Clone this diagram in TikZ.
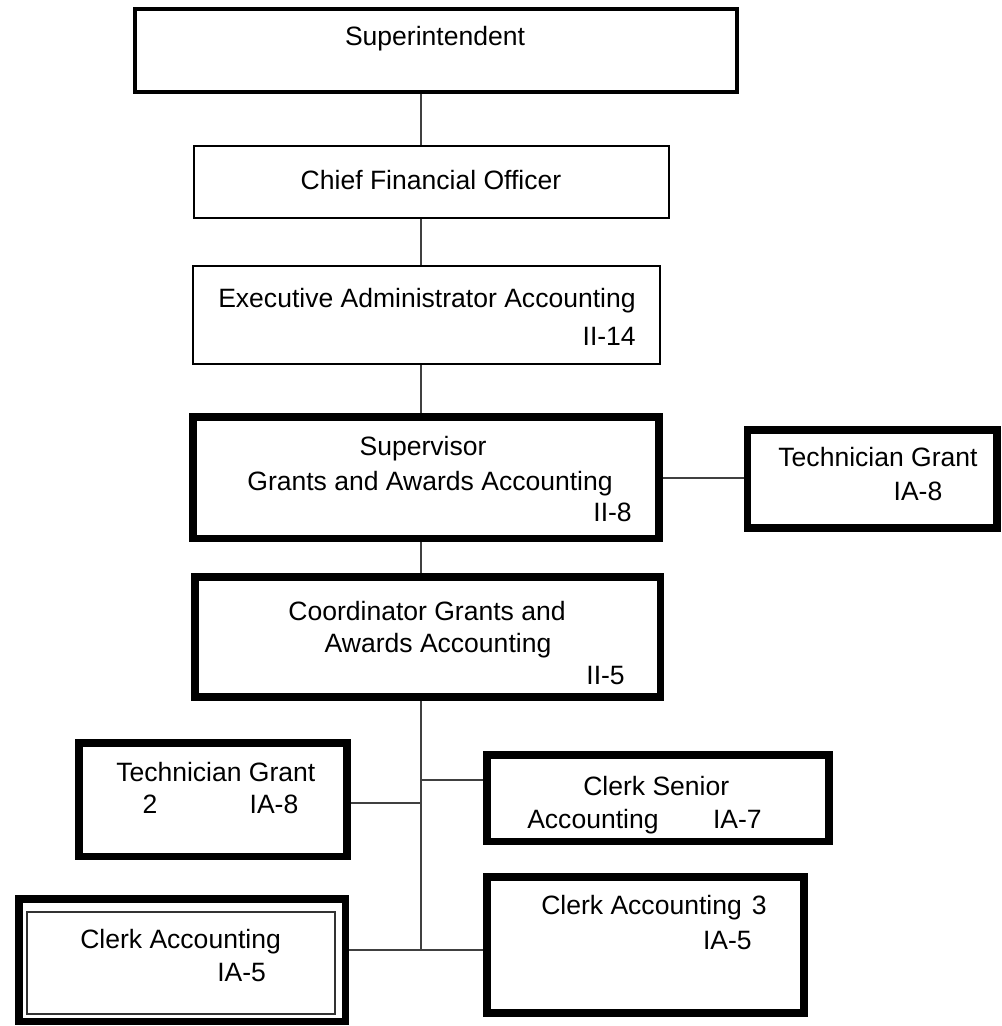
\documentclass[tikz,border=0pt]{standalone}
\usepackage{fontspec}
\setmainfont{Liberation Sans}
\usetikzlibrary{fit}
\begin{document}
\begin{tikzpicture}[x=0.75pt,y=-0.75pt,
  every node/.style={inner sep=0pt, font=\fontsize{19.9pt}{24pt}\selectfont},
  heavybox/.style={draw=black, line width=5.6pt, inner sep=0pt},
  mediumbox/.style={draw=black, line width=2.6pt, inner sep=0pt},
  plainbox/.style={draw=black, line width=1.5pt, inner sep=0pt},
  innerbox/.style={draw=black!80, line width=0.8pt, inner sep=0pt},
  link/.style={draw=black!75, line width=1pt}]
\useasboundingbox (0,0) rectangle (1001,1026);

% boxes
\node[mediumbox, fit={(135,9)(737,92)}] (sup) {};
\node[plainbox, fit={(193.5,146)(669,218)}] (cfo) {};
\node[plainbox, fit={(192.5,266)(659.5,364)}] (exa) {};
\node[heavybox, fit={(193,417)(659,538.5)}] (sgaa) {};
\node[heavybox, fit={(747.5,430)(997,528)}] (tg) {};
\node[heavybox, fit={(195,577)(660.5,697)}] (cgaa) {};
\node[heavybox, fit={(79,743)(347,856.5)}] (tgtwo) {};
\node[heavybox, fit={(487,755)(829,841.5)}] (csa) {};
\node[heavybox, fit={(19,899)(345.5,1021.5)}] (ca) {};
\node[innerbox, fit={(27,912)(335,1014)}] (cain) {};
\node[heavybox, fit={(487,877)(804,1013)}] (cathree) {};

% texts
\node[anchor=base] (sup-t) at (435,45) {Superintendent};
\node[anchor=base] (cfo-t) at (431,189) {Chief Financial Officer};
\node[anchor=base west] (exa-t) at (218,307) {Executive Administrator Accounting};
\node[anchor=base east] (exa-g) at (636,345) {II-14};
\node[anchor=base] (sgaa-t1) at (423,455) {Supervisor};
\node[anchor=base] (sgaa-t2) at (430,490) {Grants and Awards Accounting};
\node[anchor=base east] (sgaa-g) at (632,521) {II-8};
\node[anchor=base] (tg-t) at (878,466) {Technician Grant};
\node[anchor=base] (tg-g) at (918,500) {IA-8};
\node[anchor=base] (cgaa-t1) at (427,620) {Coordinator Grants and};
\node[anchor=base] (cgaa-t2) at (438,652) {Awards Accounting};
\node[anchor=base east] (cgaa-g) at (625,684) {II-5};
\node[anchor=base west] (tgtwo-t) at (116,781) {Technician Grant};
\node[anchor=base] (tgtwo-n) at (150,813) {2};
\node[anchor=base] (tgtwo-g) at (274,813) {IA-8};
\node[anchor=base west] (csa-t1) at (583,795) {Clerk Senior};
\node[anchor=base west] (csa-t2) at (527,828) {Accounting};
\node[anchor=base east] (csa-g) at (762,828) {IA-7};
\node[anchor=base west] (ca-t) at (80,948) {Clerk Accounting};
\node[anchor=base west] (ca-g) at (217,981) {IA-5};
\node[anchor=base west] (cathree-t) at (541,914) {Clerk Accounting};
\node[anchor=base east] (cathree-n) at (767,914) {3};
\node[anchor=base east] (cathree-g) at (752,949) {IA-5};

% reporting lines
\coordinate (trunk) at (421,950);
\draw[link] (sup.south -| trunk) -- (cfo.north -| trunk);
\draw[link] (cfo.south -| trunk) -- (exa.north -| trunk);
\draw[link] (exa.south -| trunk) -- (sgaa.north -| trunk);
\draw[link] (sgaa.south -| trunk) -- (cgaa.north -| trunk);
\draw[link] (sgaa.east |- 0,478) -- (tg.west |- 0,478);
\draw[link] (cgaa.south -| trunk) -- (trunk);
\draw[link] (tgtwo.east |- 0,803) -- (trunk |- 0,803);
\draw[link] (trunk |- 0,780) -- (csa.west |- 0,780);
\draw[link] (ca.east |- trunk) -- (cathree.west |- trunk);
\end{tikzpicture}
\end{document}
